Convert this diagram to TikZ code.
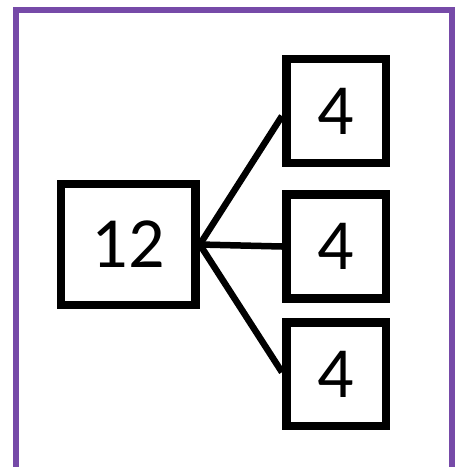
\documentclass[tikz,border=0pt]{standalone}
\usepackage{fontspec}
\setmainfont{Carlito}
\definecolor{framepurple}{RGB}{118,74,168}
\begin{document}
\begin{tikzpicture}[x=1pt,y=-1pt,
  numbox/.style={draw=black, line width=8.5pt, rectangle, inner sep=0pt, font=\fontsize{72}{80}\selectfont},
  link/.style={draw=black, line width=6.5pt}]
\useasboundingbox (0,0) rectangle (459,467);
\draw[framepurple, line width=6pt] (16,10) rectangle (451.5,470);
\node[numbox, minimum width=134.5pt, minimum height=121pt] (b12) at (128.3,244.5) {12};
\node[numbox, minimum width=99.5pt, minimum height=104pt] (t4) at (336,111) {4};
\node[numbox, minimum width=99.5pt, minimum height=104pt] (m4) at (336,246.5) {4};
\node[numbox, minimum width=99.5pt, minimum height=103.5pt] (u4) at (336,374.2) {4};
\draw[link] (b12.east) -- ([yshift=-5pt]t4.west);
\draw[link] (b12.east) -- (m4.west);
\draw[link] (b12.east) -- ([yshift=2pt]u4.west);
\end{tikzpicture}
\end{document}
